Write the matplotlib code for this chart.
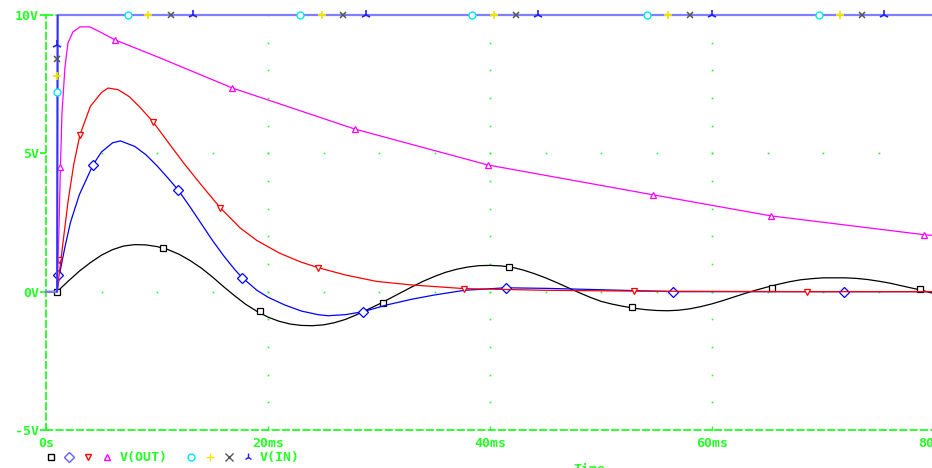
import numpy as np
import matplotlib
matplotlib.use("Agg")
import matplotlib.pyplot as plt

# ==========================================================
# TRANSIENT DATA (time in ms, voltage in V)
# ==========================================================

# V(IN): step from 0V to 10V
vin_t = [0.0, 1.0, 1.05, 80.0]
vin_v = [0.0, 0.0, 10.0, 10.0]

# marker sample points along V(IN) for the four sweep runs
vin_circle_t = [1.03, 7.4, 22.9, 38.4, 54.1, 69.6]
vin_circle_v = [7.2, 10, 10, 10, 10, 10]
vin_plus_t = [1.03, 9.2, 24.9, 40.4, 56.0, 71.5]
vin_plus_v = [7.8, 10, 10, 10, 10, 10]
vin_cross_t = [1.03, 11.3, 26.8, 42.3, 58.0, 73.5]
vin_cross_v = [8.4, 10, 10, 10, 10, 10]
vin_tri_t = [1.03, 13.2, 28.8, 44.3, 60.0, 75.5]
vin_tri_v = [8.9, 10, 10, 10, 10, 10]

# V(OUT) run 1 - black, underdamped
black_t = [0, 1, 2, 3, 4, 5, 6, 7, 8, 9, 10, 11, 12, 13, 14, 15, 16, 17, 18, 19,
           20, 21, 22, 23, 24, 25, 26, 27, 28, 29, 30, 31, 32, 33, 34, 35, 36, 37,
           38, 39, 40, 41, 42, 43, 44, 45, 46, 47, 48, 49, 50, 51, 52, 53, 54, 55,
           56, 57, 58, 59, 60, 61, 62, 63, 64, 65, 66, 67, 68, 69, 70, 71, 72, 73,
           74, 75, 76, 77, 78, 79, 80]
black_v = [0, 0, 0.38, 0.74, 1.05, 1.32, 1.52, 1.65, 1.70, 1.69, 1.63, 1.52, 1.35,
           1.12, 0.85, 0.53, 0.18, -0.15, -0.46, -0.71, -0.92, -1.07, -1.17, -1.22,
           -1.23, -1.20, -1.12, -1.00, -0.83, -0.64, -0.45, -0.24, -0.03, 0.18, 0.38,
           0.55, 0.70, 0.81, 0.89, 0.94, 0.95, 0.93, 0.88, 0.78, 0.65, 0.50, 0.33,
           0.15, -0.03, -0.20, -0.35, -0.45, -0.53, -0.60, -0.65, -0.68, -0.69,
           -0.67, -0.62, -0.54, -0.44, -0.32, -0.19, -0.06, 0.06, 0.17, 0.27, 0.36,
           0.43, 0.47, 0.50, 0.50, 0.50, 0.48, 0.44, 0.38, 0.31, 0.22, 0.13, 0.04,
           -0.07]
black_mark_t = [1.0, 10.5, 19.3, 30.4, 41.7, 52.8, 65.4, 78.7]
black_mark_v = [0.0, 1.59, -0.69, -0.40, 0.90, -0.56, 0.14, 0.10]

# V(OUT) run 2 - blue
blue_t = [0, 1, 1.3, 1.7, 2.2, 3.0, 4.23, 5.0, 6.0, 6.7, 8.0, 9.0, 10.0, 11.0,
          11.9, 13.0, 14.0, 15.0, 16.0, 17.0, 17.7, 19.0, 20.0, 21.5, 23.0, 24.5,
          25.4, 27.0, 28.6, 30.8, 33.0, 35.0, 37.7, 41.4, 45.0, 50.0, 56.5, 80.0]
blue_v = [0, 0, 0.8, 1.6, 2.5, 3.5, 4.58, 5.05, 5.38, 5.45, 5.25, 4.95, 4.55, 4.1,
          3.68, 3.05, 2.45, 1.85, 1.3, 0.8, 0.5, 0.05, -0.2, -0.48, -0.70, -0.83,
          -0.87, -0.83, -0.72, -0.47, -0.27, -0.12, 0.05, 0.14, 0.12, 0.07, 0.0, 0.0]
blue_mark_t = [1.05, 4.23, 11.9, 17.7, 28.6, 41.4, 56.5, 71.9]
blue_mark_v = [0.6, 4.58, 3.68, 0.5, -0.72, 0.14, 0.0, 0.0]

# V(OUT) run 3 - red
red_t = [0, 1, 1.3, 1.6, 2.0, 2.5, 3.06, 4.0, 5.0, 5.6, 6.5, 7.5, 8.5, 9.64, 11.0,
         12.5, 14.0, 15.7, 17.5, 19.0, 21.0, 22.9, 24.5, 27.0, 29.8, 33.0, 37.7,
         45.0, 53.0, 68.6, 80.0]
red_v = [0, 0, 1.0, 2.0, 3.3, 4.6, 5.67, 6.7, 7.2, 7.36, 7.3, 7.05, 6.65, 6.14, 5.4,
         4.6, 3.85, 3.03, 2.3, 1.85, 1.4, 1.08, 0.87, 0.6, 0.37, 0.24, 0.11, 0.05,
         0.02, 0.0, 0.0]
red_mark_t = [1.15, 3.06, 9.64, 15.7, 24.5, 37.7, 53.0, 68.6]
red_mark_v = [1.15, 5.67, 6.14, 3.03, 0.87, 0.11, 0.02, 0.0]

# V(OUT) run 4 - magenta
mag_t = [0, 1.0, 1.15, 1.3, 1.44, 1.71, 1.98, 2.43, 3.06, 3.96, 4.86, 6.22, 10.27,
         16.8, 27.8, 39.8, 54.7, 65.3, 79.1, 80.0]
mag_v = [0, 0, 2.0, 4.5, 6.46, 8.12, 8.99, 9.39, 9.57, 9.57, 9.39, 9.10, 8.45,
         7.36, 5.88, 4.58, 3.50, 2.74, 2.06, 2.03]
mag_mark_t = [1.3, 6.22, 16.8, 27.8, 39.8, 54.7, 65.3, 79.1]
mag_mark_v = [4.5, 9.10, 7.36, 5.88, 4.58, 3.50, 2.74, 2.06]

x_ticks = [0, 20, 40, 60, 80]
x_labels = ["0s", "20ms", "40ms", "60ms", "80ms"]
y_ticks = [-5, 0, 5, 10]
y_labels = ["-5V", "0V", "5V", "10V"]

# ==========================================================
# STYLE
# ==========================================================

GREEN = "#22ff22"
FONT = dict(family="DejaVu Sans Mono", weight="bold", size=9.5, color=GREEN)

fig = plt.figure(figsize=(9.32, 4.68), dpi=100)
ax = fig.add_axes([46 / 932, 38 / 468, 888 / 932, 415 / 468])
ax.set_xlim(0, 80)
ax.set_ylim(-5, 10)

# ==========================================================
# AXES FRAME AND DOT GRID
# ==========================================================

for side in ["left", "bottom", "top"]:
    ax.spines[side].set_color(GREEN)
    ax.spines[side].set_linestyle((0, (3.5, 2.2)))
    ax.spines[side].set_linewidth(1.3)
ax.spines["right"].set_visible(False)

ax.set_xticks(x_ticks)
ax.set_xticklabels(x_labels, fontdict=FONT)
ax.set_yticks(y_ticks)
ax.set_yticklabels(y_labels, fontdict=FONT)
ax.tick_params(axis="x", direction="in", length=3, width=1, color=GREEN, pad=5)
ax.tick_params(axis="y", direction="out", length=4, width=1.3, color=GREEN, pad=1)

# dotted grid: vertical at the inner time ticks, horizontal at 0V and 5V
for xt in x_ticks[1:-1]:
    gy = np.arange(-5, 10.01, 1.0)
    ax.plot(np.full_like(gy, xt), gy, linestyle="none", marker="s",
            ms=1.2, mew=0, color=GREEN, zorder=1)
for yt in [0, 5]:
    gx = np.arange(5, 80.01, 5.0)
    ax.plot(gx, np.full_like(gx, yt), linestyle="none", marker="s",
            ms=1.2, mew=0, color=GREEN, zorder=1)

# ==========================================================
# TRACES
# ==========================================================

def trace(t, v, mt, mv, color, marker, z):
    ax.plot(t, v, color=color, lw=0.9, zorder=z, clip_on=False)
    ax.plot(mt, mv, linestyle="none", marker=marker, ms=5, mew=0.9,
            mfc="white", mec=color, zorder=z + 0.5, clip_on=False)

trace(black_t, black_v, black_mark_t, black_mark_v, "#000000", "s", 3)
trace(blue_t, blue_v, blue_mark_t, blue_mark_v, "#0000ff", "D", 4)
trace(red_t, red_v, red_mark_t, red_mark_v, "#ff0000", "v", 5)
trace(mag_t, mag_v, mag_mark_t, mag_mark_v, "#ff00ff", "^", 6)

ax.plot(vin_t, vin_v, color="#7f7fff", lw=1.6, zorder=7, clip_on=False)
ax.plot([vin_t[1], vin_t[2]], [vin_v[1], vin_v[2]], color="#3030ff", lw=1.2,
        zorder=7.2)
ax.plot(vin_circle_t, vin_circle_v, linestyle="none", marker="o", ms=5, mew=1,
        mfc="white", mec="#00e5ff", zorder=8, clip_on=False)
ax.plot(vin_plus_t, vin_plus_v, linestyle="none", marker="+", ms=6, mew=1.3,
        color="#f2e600", zorder=8, clip_on=False)
ax.plot(vin_cross_t, vin_cross_v, linestyle="none", marker="x", ms=5, mew=1.1,
        color="#555555", zorder=8, clip_on=False)
ax.plot(vin_tri_t, vin_tri_v, linestyle="none", marker="2", ms=7, mew=1.2,
        color="#2020ff", zorder=8, clip_on=False)

# ==========================================================
# LEGEND ROW
# ==========================================================

leg_y = 1 - 457 / 468
legend_marks = [
    (51, "s", "#000000"), (69, "D", "#6060ff"), (88, "v", "#ff0000"),
    (107, "^", "#ff00ff"), (191, "o", "#00e5ff"), (210, "+", "#f2e600"),
    (229, "x", "#555555"), (248, "2", "#2020ff"),
]
for px, mk, col in legend_marks:
    filled = mk in ("+", "x", "2")
    fig.add_artist(plt.Line2D([px / 932], [leg_y], transform=fig.transFigure,
                              linestyle="none", marker=mk, ms=5 if not filled else 6,
                              mew=1.0, mfc="white" if not filled else col, mec=col))
fig.text(120 / 932, leg_y, "V(OUT)", va="center", ha="left", **FONT)
fig.text(260 / 932, leg_y, "V(IN)", va="center", ha="left", **FONT)
fig.text(573 / 932, 1 - 463 / 468, "Time", va="top", ha="left", **FONT)

fig.savefig("out.png", dpi=100, facecolor="white")
